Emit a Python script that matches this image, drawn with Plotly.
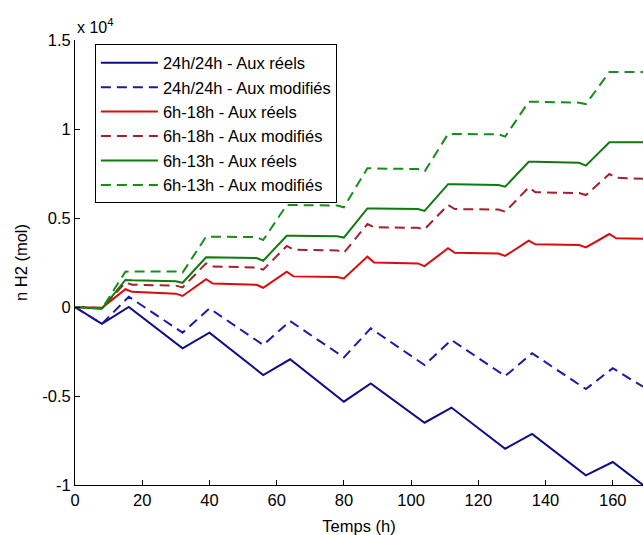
import plotly.graph_objects as go

# Time axes (h)
t_24 = [0, 8, 16, 32, 40, 56, 64, 80, 88, 104, 112, 128, 136, 152, 160, 169]
t_6h = [0, 8, 15, 17, 30, 32, 39, 41, 54, 56, 63, 65, 78, 80, 87, 89,
        102, 104, 111, 113, 126, 128, 135, 137, 150, 152, 159, 161, 169]

# n H2 (mol)
h24_reels = [0, -950, 0, -2320, -1440, -3820, -2940, -5320, -4300, -6500,
             -5650, -7960, -7130, -9460, -8710, -10000]
h24_modif = [0, -950, 580, -1440, -80, -2130, -790, -2830, -1200, -3260,
             -1850, -3880, -2600, -4610, -3440, -4480]
h618_reels = [0, -50, 1000, 850, 750, 620, 1560, 1320, 1250, 1080, 1980, 1720,
              1680, 1600, 2830, 2500, 2450, 2300, 3300, 3050, 3000, 2870,
              3730, 3520, 3480, 3350, 4100, 3860, 3830]
h618_modif = [0, -50, 1370, 1250, 1200, 1100, 2450, 2280, 2220, 2100, 3430,
              3220, 3180, 3050, 4660, 4480, 4450, 4370, 5730, 5500, 5480,
              5350, 6720, 6450, 6400, 6290, 7470, 7260, 7200]
h613_reels = [0, -100, 1520, 1500, 1450, 1360, 2790, 2790, 2750, 2600, 4000,
              4000, 3980, 3900, 5540, 5540, 5500, 5400, 6900, 6900, 6850,
              6760, 8160, 8160, 8100, 7940, 9250, 9250, 9250]
h613_modif = [0, -100, 1980, 2000, 2000, 1930, 3950, 3950, 3930, 3760, 5730,
              5730, 5700, 5600, 7800, 7780, 7750, 7600, 9720, 9720, 9700,
              9570, 11530, 11530, 11480, 11400, 13200, 13200, 13200]

names = ["24h/24h - Aux réels", "24h/24h - Aux modifiés",
         "6h-18h - Aux réels", "6h-18h - Aux modifiés",
         "6h-13h - Aux réels", "6h-13h - Aux modifiés"]

y_tickvals = [-10000, -5000, 0, 5000, 10000, 15000]
y_ticktext = ["-1", "-0.5", "0", "0.5", "1", "1.5"]
x_tickvals = [0, 20, 40, 60, 80, 100, 120, 140, 160]

DASH = "10px,6px"
series = [
    (t_24, h24_reels, names[0], "#0c0c88", "solid"),
    (t_24, h24_modif, names[1], "#1a1aa8", DASH),
    (t_6h, h618_reels, names[2], "#dd0a0a", "solid"),
    (t_6h, h618_modif, names[3], "#a3202c", DASH),
    (t_6h, h613_reels, names[4], "#0f7a0f", "solid"),
    (t_6h, h613_modif, names[5], "#178c17", DASH),
]

fig = go.Figure()
for x, y, n, c, d in series:
    fig.add_trace(go.Scatter(x=x, y=y, name=n, mode="lines",
                             line=dict(color=c, width=2, dash=d)))

FONT = "Arial, Liberation Sans, sans-serif"
fig.update_layout(
    width=643, height=535,
    margin=dict(l=75, r=0, t=40, b=50, autoexpand=False),
    paper_bgcolor="white", plot_bgcolor="white",
    font=dict(family=FONT, size=16.5, color="black"),
    showlegend=True,
    legend=dict(x=0.035, y=0.99, xanchor="left", yanchor="top",
                bordercolor="black", borderwidth=1, bgcolor="white",
                font=dict(family=FONT, size=16.5, color="black"),
                tracegroupgap=0, itemwidth=57),
    xaxis=dict(range=[0, 169], tickvals=x_tickvals, ticks="inside", ticklen=5,
               tickcolor="black", showline=True, linecolor="black",
               linewidth=1, showgrid=False, zeroline=False, mirror=False,
               automargin=False, tickfont=dict(family=FONT, size=16.5),
               title=dict(text="Temps (h)", standoff=12,
                          font=dict(family=FONT, size=16.5))),
    yaxis=dict(range=[-10000, 15000], tickvals=y_tickvals,
               ticktext=y_ticktext, ticks="inside", ticklen=5,
               tickcolor="black", showline=True, linecolor="black",
               linewidth=1, showgrid=False, zeroline=False, mirror=False,
               automargin=False, tickfont=dict(family=FONT, size=16.5),
               title=dict(text="n H2 (mol)", standoff=10,
                          font=dict(family=FONT, size=16.5))),
    annotations=[dict(text="x 10<sup>4</sup>", xref="paper", yref="paper",
                      x=0.0, y=1.0, xanchor="left", yanchor="bottom",
                      yshift=2, showarrow=False,
                      font=dict(family=FONT, size=16))],
)

fig.write_html(
    "out.html",
    config={"displayModeBar": False},
    post_script=("document.documentElement.style.overflow='hidden';"
                 "document.body.style.margin='0';"
                 "document.body.style.overflow='hidden';"),
)
